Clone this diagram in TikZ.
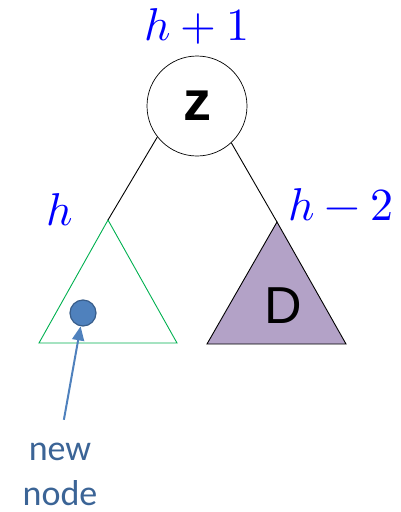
\documentclass[tikz,border=0pt]{standalone}
\usepackage{fontspec}
\usepackage{unicode-math}
\setsansfont{Liberation Sans}
\newfontfamily\notefont{Carlito}
\usetikzlibrary{arrows.meta}
\definecolor{treeBlue}{RGB}{0,0,255}
\definecolor{treeGreen}{RGB}{0,176,80}
\definecolor{treePurple}{RGB}{179,162,199}
\definecolor{dotBlue}{RGB}{79,129,189}
\definecolor{dotEdge}{RGB}{56,93,138}
\definecolor{noteBlue}{RGB}{59,100,150}

\begin{document}
\begin{tikzpicture}[x=1pt, y=-1pt,
  height/.style={text=treeBlue, font=\fontsize{46}{50}\selectfont, anchor=base},
  subtree/.style={line width=0.9pt, line join=miter}]
\useasboundingbox (0,0) rectangle (401,512);
\node[draw, circle, line width=0.7pt, minimum size=100pt, inner sep=0pt, font=\sffamily\bfseries\fontsize{56}{60}\selectfont] (z) at (197,106) {z};
\coordinate (ltop) at (108,220);
\coordinate (rtop) at (277,222);
\draw[subtree, treeGreen] (ltop) -- (39,343) -- (177,343) -- cycle;
\draw[subtree, fill=treePurple] (rtop) -- (207,344) -- (346,344) -- cycle;
\node[font=\sffamily\fontsize{52}{56}\selectfont] (d) at (283,306) {D};
\draw[line width=0.9pt] (z.218) -- (ltop);
\draw[line width=0.9pt] (z.313) -- (rtop);
\node[height] (hz) at (197,40) {$h+1$};
\node[height] (hl) at (60,225) {$h$};
\node[height] (hr) at (341,220) {$h-2$};
\node[circle, draw=dotEdge, fill=dotBlue, line width=1.2pt, minimum size=26pt, inner sep=0pt] (dot) at (83,313) {};
\node[text=noteBlue, font=\notefont\fontsize{36}{45}\selectfont, align=center, inner sep=1pt] (note) at (60,474) {new\\node};
\draw[-{Triangle[width=12pt,length=14pt]}, dotBlue, line width=2pt, shorten <=22pt] (note.north) -- (dot);
\end{tikzpicture}
\end{document}
